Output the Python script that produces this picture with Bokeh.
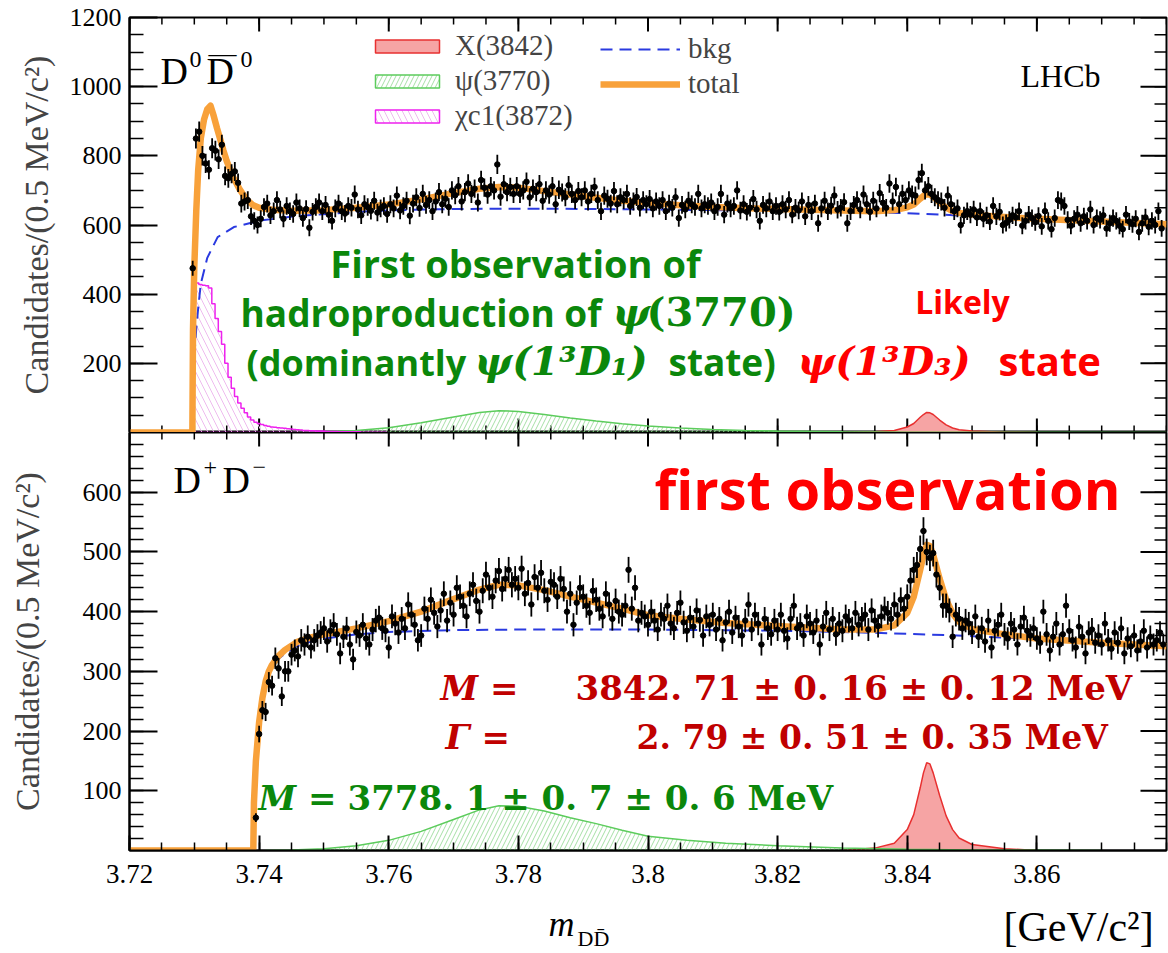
import numpy as np
from bokeh.plotting import figure
from bokeh.layouts import column
from bokeh.models import (LinearAxis, FixedTicker, Range1d, Label, Legend,
                          LegendItem, PrintfTickFormatter)
from bokeh.embed import file_html
from bokeh.resources import INLINE

# ---------------------------------------------------------------------------
# Data: candidates per 0.5 MeV bin
# ---------------------------------------------------------------------------
BIN_WIDTH = 0.0005

# D0 D0bar spectrum, first bin centre and counts (20 bins = 10 MeV per row)
dd0_first_center = 3.72975
dd0_counts = [
    475, 850, 870, 800, 778, 760, 822, 815, 790, 832, 742, 735, 748, 755, 722, 662, 668, 672, 625, 612,
    600, 618, 652, 662, 628, 640, 672, 645, 618, 655, 640, 632, 665, 648, 620, 646, 592, 638, 652, 665,
    640, 658, 630, 612, 648, 662, 640, 633, 655, 650, 688, 645, 628, 660, 652, 641, 670, 636, 648, 655,
    632, 660, 648, 685, 642, 655, 670, 627, 662, 680, 649, 690, 658, 672, 640, 668, 695, 660, 676, 652,
    700, 686, 712, 668, 695, 720, 690, 705, 665, 730, 708, 688, 712, 700, 775, 682, 718, 695, 710, 690,
    712, 690, 700, 725, 680, 705, 695, 718, 670, 700, 688, 712, 660, 702, 694, 680, 715, 690, 672, 698,
    680, 700, 668, 690, 710, 672, 640, 685, 676, 662, 698, 660, 680, 672, 690, 655, 668, 681, 650, 672,
    660, 675, 648, 668, 655, 672, 640, 662, 650, 680, 620, 658, 645, 670, 660, 652, 690, 648, 660, 655,
    665, 640, 652, 690, 630, 662, 648, 655, 700, 642, 660, 638, 650, 675, 645, 612, 658, 648, 668, 640,
    655, 638, 660, 645, 672, 630, 650, 642, 668, 625, 658, 640, 662, 605, 648, 670, 640, 656, 685, 644,
    650, 666, 605, 640, 658, 672, 645, 688, 660, 638, 670, 648, 692, 664, 650, 720, 668, 710, 660, 690,
    672, 700, 688, 685, 730, 750, 700, 712, 690, 680, 672, 668, 650, 685, 660, 640, 648, 600, 628, 640,
    630, 645, 622, 640, 618, 628, 610, 655, 625, 638, 600, 606, 615, 628, 622, 640, 598, 612, 630, 620,
    608, 626, 596, 640, 612, 588, 620, 672, 668, 655, 615, 598, 618, 630, 605, 625, 612, 645, 600, 620,
    615, 628, 590, 605, 620, 612, 598, 588, 630, 610, 602, 618, 580, 605, 622, 595, 612, 600, 640, 590,
]

# D+ D- spectrum
dpm_first_center = 3.7395
dpm_counts = [
    55, 195, 235, 232, 282, 276, 322, 305, 258, 300, 300, 328, 335, 325, 352, 345, 358, 340, 352, 360,
    365, 372, 350, 368, 378, 362, 330, 358, 372, 345, 320, 366, 360, 378, 355, 345, 370, 385, 390, 372,
    368, 340, 392, 380, 365, 388, 372, 412, 395, 378, 352, 360, 405, 388, 420, 398, 375, 402, 430, 385,
    415, 395, 440, 425, 410, 392, 430, 445, 418, 400, 435, 462, 440, 425, 452, 468, 438, 455, 470, 445,
    455, 440, 472, 430, 448, 412, 458, 440, 465, 435, 420, 450, 445, 425, 455, 438, 400, 430, 378, 415,
    440, 425, 410, 398, 435, 420, 405, 392, 430, 412, 388, 418, 400, 395, 410, 470, 405, 440, 385, 398,
    392, 378, 400, 385, 370, 395, 388, 410, 380, 372, 398, 415, 382, 368, 390, 375, 402, 386, 360, 392,
    378, 395, 370, 388, 352, 382, 400, 365, 390, 375, 360, 385, 412, 370, 395, 380, 345, 388, 372, 362,
    385, 370, 395, 368, 355, 388, 410, 372, 378, 360, 392, 380, 365, 385, 345, 375, 398, 370, 388, 362,
    380, 368, 392, 385, 372, 398, 378, 388, 395, 370, 402, 385, 376, 392, 405, 398, 388, 412, 395, 420,
    405, 425, 452, 470, 478, 505, 535, 500, 490, 498, 462, 440, 410, 410, 402, 358, 395, 388, 372, 385,
    380, 365, 392, 358, 372, 350, 385, 340, 368, 378, 395, 362, 355, 380, 370, 345, 375, 390, 368, 360,
    372, 355, 348, 400, 362, 335, 358, 380, 345, 362, 410, 368, 352, 340, 375, 358, 330, 365, 370, 348,
    360, 345, 380, 352, 338, 365, 348, 372, 330, 355, 342, 360, 335, 350, 368, 340, 358, 345, 352, 365,
    345,
]

# ---------------------------------------------------------------------------
# Fit model curves, sampled as (mass [GeV], candidates) pairs
# ---------------------------------------------------------------------------
dd0_total = [
    (3.7200, 0), (3.7297, 0), (3.7298, 300), (3.7300, 480), (3.7303, 640), (3.7306, 760),
    (3.7310, 850), (3.7315, 905), (3.7320, 935), (3.7325, 945), (3.7330, 915), (3.7335, 880),
    (3.7340, 848), (3.7345, 815), (3.7350, 785), (3.7360, 738), (3.7370, 703), (3.7380, 675),
    (3.7390, 658), (3.7400, 650), (3.7420, 644), (3.7450, 641), (3.7500, 643), (3.7550, 650),
    (3.7600, 659), (3.7650, 674), (3.7700, 692), (3.7740, 705), (3.7770, 710), (3.7800, 708),
    (3.7840, 698), (3.7880, 688), (3.7920, 679), (3.7960, 670), (3.8000, 664), (3.8050, 657),
    (3.8100, 652), (3.8200, 646), (3.8300, 642), (3.8350, 640), (3.8380, 643), (3.8400, 651),
    (3.8410, 659), (3.8420, 676), (3.8425, 684), (3.8430, 689), (3.8435, 688), (3.8440, 682),
    (3.8450, 665), (3.8460, 650), (3.8470, 640), (3.8480, 635), (3.8500, 630), (3.8550, 623),
    (3.8600, 618), (3.8700, 610), (3.8800, 602),
]
dd0_bkg = [
    (3.7297, 0), (3.7298, 120), (3.7300, 220), (3.7303, 300), (3.7306, 360), (3.7310, 430),
    (3.7320, 505), (3.7336, 565), (3.7361, 594), (3.7402, 613), (3.7464, 627), (3.7568, 640),
    (3.7650, 645), (3.7750, 647), (3.7850, 647), (3.8000, 645), (3.8100, 643), (3.8200, 642),
    (3.8300, 640), (3.8400, 634), (3.8500, 626), (3.8600, 618), (3.8700, 610), (3.8800, 602),
]
dd0_psi3770 = [
    (3.7450, 0), (3.7500, 2), (3.7550, 6), (3.7600, 14), (3.7650, 28), (3.7700, 45),
    (3.7740, 58), (3.7770, 63), (3.7800, 61), (3.7840, 52), (3.7880, 42), (3.7920, 33),
    (3.7960, 25), (3.8000, 19), (3.8050, 13), (3.8100, 9), (3.8150, 6), (3.8200, 4),
    (3.8300, 2), (3.8400, 1), (3.8800, 0),
]
dd0_x3842 = [
    (3.8300, 0), (3.8350, 2), (3.8380, 6), (3.8400, 16), (3.8410, 26), (3.8420, 44),
    (3.8425, 52), (3.8430, 58), (3.8435, 57), (3.8440, 52), (3.8450, 36), (3.8460, 22),
    (3.8470, 13), (3.8480, 8), (3.8500, 4), (3.8550, 1), (3.8600, 0),
]
# chi_c1(3872) reflection, histogram from the D0 D0bar threshold
dd0_chic1_first_edge = 3.7297
dd0_chic1_values = [
    440, 432, 428, 426, 424, 418, 372, 330, 292, 255, 200, 160, 128, 104, 85, 70, 57, 45, 36, 30,
    26, 23, 20, 18, 16, 15, 14, 13, 12, 11, 10, 9, 8, 7, 6, 6, 5, 5, 4, 4,
    4, 3, 3, 3, 3, 2, 2, 2, 2, 2, 2, 2, 1, 1, 1, 1, 1, 1, 1, 1,
]

dpm_total = [
    (3.7200, 0), (3.7391, 0), (3.7392, 80), (3.7395, 150), (3.7400, 215), (3.7405, 255),
    (3.7410, 283), (3.7415, 300), (3.7420, 311), (3.7430, 326), (3.7440, 336), (3.7460, 350),
    (3.7480, 357), (3.7500, 362), (3.7550, 372), (3.7600, 384), (3.7650, 400), (3.7700, 421),
    (3.7740, 437), (3.7770, 445), (3.7800, 444), (3.7840, 436), (3.7880, 425), (3.7920, 415),
    (3.7960, 405), (3.8000, 394), (3.8060, 387), (3.8120, 381), (3.8200, 376), (3.8300, 370),
    (3.8350, 370), (3.8380, 377), (3.8400, 398), (3.8410, 425), (3.8420, 470), (3.8425, 495),
    (3.8430, 512), (3.8435, 510), (3.8440, 495), (3.8450, 455), (3.8460, 420), (3.8470, 397),
    (3.8480, 383), (3.8500, 371), (3.8550, 362), (3.8600, 355), (3.8700, 348), (3.8800, 342),
]
dpm_bkg = [
    (3.7391, 0), (3.7392, 78), (3.7395, 148), (3.7400, 213), (3.7405, 253), (3.7410, 280),
    (3.7420, 307), (3.7430, 321), (3.7440, 330), (3.7460, 343), (3.7480, 350), (3.7500, 355),
    (3.7550, 362), (3.7600, 366), (3.7700, 369), (3.7800, 370), (3.7900, 370), (3.8000, 370),
    (3.8100, 369), (3.8200, 368), (3.8300, 366), (3.8400, 363), (3.8500, 359), (3.8600, 354),
    (3.8700, 348), (3.8800, 342),
]
dpm_psi3770 = [
    (3.7410, 0), (3.7450, 1), (3.7500, 3), (3.7550, 8), (3.7600, 17), (3.7650, 32),
    (3.7700, 52), (3.7740, 68), (3.7770, 75), (3.7800, 74), (3.7840, 66), (3.7880, 55),
    (3.7920, 45), (3.7960, 34), (3.8000, 24), (3.8060, 17), (3.8120, 12), (3.8200, 8),
    (3.8300, 4), (3.8400, 2), (3.8500, 1), (3.8700, 0),
]
dpm_x3842 = [
    (3.8300, 0), (3.8350, 4), (3.8380, 12), (3.8400, 35), (3.8410, 60), (3.8420, 105),
    (3.8425, 130), (3.8430, 147), (3.8435, 145), (3.8440, 130), (3.8450, 92), (3.8460, 58),
    (3.8470, 35), (3.8480, 21), (3.8500, 10), (3.8550, 3), (3.8600, 0),
]

# Axis ticks
x_ticks = [3.72, 3.74, 3.76, 3.78, 3.80, 3.82, 3.84, 3.86]
x_minor = [round(3.72 + 0.005 * k, 3) for k in range(33)]
dd0_y_ticks = [200, 400, 600, 800, 1000, 1200]
dd0_y_minor = list(range(50, 1200, 50))
dpm_y_ticks = [100, 200, 300, 400, 500, 600]
dpm_y_minor = list(range(20, 700, 20))

# ---------------------------------------------------------------------------
# Styling
# ---------------------------------------------------------------------------
SERIF = "Liberation Serif, Times New Roman, Tinos, DejaVu Serif, serif"
AXIS_FONT = "serif"
SANS = "Open Sans"
MATH = "DejaVu Serif"
ORANGE = "#f8a13a"
BLUE = "#2a3ae0"
GREEN_LINE = "#5ccc5c"
GREEN_HATCH = "#a6dfa6"
MAGENTA = "#ee22ee"
MAGENTA_HATCH = "#eebbee"
RED_LINE = "#e83030"
RED_FILL = "#f6a4a4"
ANN_GREEN = "#0b870b"
ANN_RED = "#ff0000"
ANN_DARKRED = "#c00000"

X_MIN, X_MAX = 3.72, 3.88
FRAME_W = 1037
LEFT_BORDER = 129
PX_PER_GEV = FRAME_W / (X_MAX - X_MIN)
# drawn text sits about this fraction of its size below the requested baseline
BASELINE_LIFT = 0.37


def unzip(pairs):
    xs = [a for a, _ in pairs]
    ys = [b for _, b in pairs]
    return xs, ys


def style_axis(ax, ticks, minor, major_len, minor_len, label_size):
    ax.ticker = FixedTicker(ticks=ticks, minor_ticks=minor)
    ax.major_tick_in = major_len
    ax.major_tick_out = 0
    ax.minor_tick_in = minor_len
    ax.minor_tick_out = 0
    ax.axis_line_width = 2
    ax.major_tick_line_width = 2
    ax.minor_tick_line_width = 1.5
    ax.major_label_text_font = AXIS_FONT
    ax.major_label_text_font_size = f"{label_size}px"
    ax.major_label_text_color = "black"


def inward_ticks(p, xs, ys, length, angle, width):
    p.ray(x=xs, y=ys, length=length, angle=angle, length_units="screen",
          line_color="black", line_width=width)


def make_panel(frame_h, y_max, y_ticks, y_minor, border_top, border_bottom,
               label_standoff, x_axis, top_ticks, bottom_ticks):
    p = figure(frame_width=FRAME_W, frame_height=frame_h,
               x_range=Range1d(X_MIN, X_MAX), y_range=Range1d(0, y_max),
               output_backend="svg", toolbar_location=None,
               x_axis_location=None, y_axis_location=None,
               min_border_left=LEFT_BORDER, min_border_right=2,
               min_border_top=border_top, min_border_bottom=border_bottom)
    p.grid.visible = False
    p.outline_line_color = "black"
    p.outline_line_width = 2
    p.background_fill_color = "white"
    p.border_fill_color = "white"

    left = LinearAxis()
    style_axis(left, y_ticks, y_minor, 28, 14, 26)
    left.major_label_standoff = 8
    left.axis_label = "Candidates/(0.5 MeV/c²)"
    left.axis_label_text_font = AXIS_FONT
    left.axis_label_text_font_style = "normal"
    left.axis_label_text_font_size = "34px"
    left.axis_label_standoff = label_standoff
    p.add_layout(left, "left")

    if x_axis:
        bottom = LinearAxis()
        style_axis(bottom, x_ticks, x_minor, 15, 8, 27)
        bottom.formatter = PrintfTickFormatter(format="%g")
        bottom.major_label_standoff = 14
        p.add_layout(bottom, "below")

    # inward tick marks on the remaining frame edges
    inward_ticks(p, [X_MAX] * len(y_ticks), y_ticks, 26, np.pi, 2)
    inward_ticks(p, [X_MAX] * len(y_minor), y_minor, 12, np.pi, 1.5)
    if top_ticks:
        inward_ticks(p, x_ticks, [y_max] * len(x_ticks), 14, -np.pi / 2, 2)
        inward_ticks(p, x_minor, [y_max] * len(x_minor), 7, -np.pi / 2, 1.5)
    if bottom_ticks:
        inward_ticks(p, x_ticks, [0] * len(x_ticks), 14, np.pi / 2, 2)
        inward_ticks(p, x_minor, [0] * len(x_minor), 7, np.pi / 2, 1.5)
    return p


def draw_points(p, first_center, counts):
    xs = first_center + BIN_WIDTH * np.arange(len(counts))
    ys = np.array(counts, dtype=float)
    err = np.sqrt(ys)
    p.segment(x0=xs, y0=ys - err, x1=xs, y1=ys + err, line_color="black", line_width=1.8)
    p.scatter(xs, ys, size=5.5, color="black")


def draw_area(p, pairs, line_color, line_width, fill_color=None, fill_alpha=0.0,
              hatch=None, hatch_color=None, hatch_scale=9):
    xs, ys = unzip(pairs)
    kw = dict(line_color=line_color, line_width=line_width,
              fill_color=fill_color, fill_alpha=fill_alpha)
    if hatch:
        kw.update(hatch_pattern=hatch, hatch_color=hatch_color,
                  hatch_scale=hatch_scale, hatch_weight=1)
    return p.patch(xs, ys, **kw)


def draw_curve(p, pairs, color, width, dash="solid"):
    xs, ys = unzip(pairs)
    return p.line(xs, ys, line_color=color, line_width=width, line_dash=dash,
                  line_join="round")


PANEL_Y = {}


def add_text(p, px_x, px_base, text, size, color="black", font=SERIF,
             style="normal", align="left"):
    """Place text by its left (or centre) pixel column and baseline pixel row;
    PANEL_Y holds each panel's conversion from pixel row to data units."""
    x = X_MIN + (px_x - LEFT_BORDER) / PX_PER_GEV
    y = PANEL_Y[id(p)](px_base - BASELINE_LIFT * size)
    p.add_layout(Label(x=x, y=y, text=text, text_font=font,
                       text_font_size=f"{size}px", text_color=color,
                       text_font_style=style, text_align=align,
                       text_baseline="alphabetic"))


# ---------------------------------------------------------------------------
# Upper panel: D0 D0bar
# ---------------------------------------------------------------------------
p1 = make_panel(415, 1200, dd0_y_ticks, dd0_y_minor, 17, 0, 12,
                x_axis=False, top_ticks=True, bottom_ticks=True)
PANEL_Y[id(p1)] = lambda py: (432 - py) * 1200 / 415

r_x1 = draw_area(p1, dd0_x3842, RED_LINE, 1.5, fill_color=RED_FILL, fill_alpha=1.0)
r_psi1 = draw_area(p1, dd0_psi3770, GREEN_LINE, 1.5, hatch="/", hatch_color=GREEN_HATCH)

edges = dd0_chic1_first_edge + BIN_WIDTH * np.arange(len(dd0_chic1_values) + 1)
step_x = np.concatenate([[edges[0]], np.repeat(edges, 2)[1:-1], [edges[-1]]])
step_y = np.concatenate([[0], np.repeat(dd0_chic1_values, 2), [0]])
r_chi = p1.patch(step_x, step_y, line_color=MAGENTA, line_width=1.5, fill_color=None,
                 fill_alpha=0.0, hatch_pattern="\\", hatch_color=MAGENTA_HATCH,
                 hatch_scale=12, hatch_weight=1)

r_bkg1 = draw_curve(p1, dd0_bkg, BLUE, 2, "12 7")
r_tot1 = draw_curve(p1, dd0_total, ORANGE, 6.5)
draw_points(p1, dd0_first_center, dd0_counts)

# channel label D0 D0bar, built from pieces so the superscripts keep their size
add_text(p1, 160, 85, "D", 38)
add_text(p1, 189, 68, "0", 24)
add_text(p1, 206, 85, "D", 38)
add_text(p1, 208, 62, "—", 28)
add_text(p1, 240, 68, "0", 24)
add_text(p1, 1020, 87, "LHCb", 32)

legend_style = dict(background_fill_alpha=0, border_line_alpha=0, padding=0, margin=0,
                    spacing=2, glyph_width=80, glyph_height=16, label_height=30,
                    label_standoff=8, label_text_font=SERIF,
                    label_text_font_size="29px")
leg_a = Legend(items=[LegendItem(label="X(3842)", renderers=[r_x1]),
                      LegendItem(label="ψ(3770)", renderers=[r_psi1]),
                      LegendItem(label="χc1(3872)", renderers=[r_chi])],
               location=(238, 300), **legend_style)
leg_b = Legend(items=[LegendItem(label="bkg", renderers=[r_bkg1]),
                      LegendItem(label="total", renderers=[r_tot1])],
               location=(471, 332), **legend_style)
p1.add_layout(leg_a)
p1.add_layout(leg_b)

# annotations on the upper panel
add_text(p1, 515, 277, "First observation of", 38, ANN_GREEN, SANS, "bold", "center")
add_text(p1, 240, 326, "hadroproduction of", 37, ANN_GREEN, SANS, "bold")
add_text(p1, 612, 326, "ψ", 40, ANN_GREEN, MATH, "bold italic")
add_text(p1, 646, 326, "(3770)", 40, ANN_GREEN, MATH, "bold")
add_text(p1, 246, 375, "(dominantly", 36, ANN_GREEN, SANS, "bold")
add_text(p1, 474, 375, "ψ(1³D₁)", 40, ANN_GREEN, MATH, "bold italic")
add_text(p1, 668, 375, "state)", 37, ANN_GREEN, SANS, "bold")
add_text(p1, 962, 313, "Likely", 32, ANN_RED, SANS, "bold", "center")
add_text(p1, 797, 375, "ψ(1³D₃)", 40, ANN_RED, MATH, "bold italic")
add_text(p1, 998, 375, "state", 40, ANN_RED, SANS, "bold")

# ---------------------------------------------------------------------------
# Lower panel: D+ D-
# ---------------------------------------------------------------------------
p2 = make_panel(418, 700, dpm_y_ticks, dpm_y_minor, 0, 50, 34,
                x_axis=True, top_ticks=True, bottom_ticks=False)
PANEL_Y[id(p2)] = lambda py: (850 - py) * 700 / 418

draw_area(p2, dpm_x3842, RED_LINE, 1.5, fill_color=RED_FILL, fill_alpha=1.0)
draw_area(p2, dpm_psi3770, GREEN_LINE, 1.5, hatch="/", hatch_color=GREEN_HATCH)
draw_curve(p2, dpm_bkg, BLUE, 2, "12 7")
draw_curve(p2, dpm_total, ORANGE, 6.5)
draw_points(p2, dpm_first_center, dpm_counts)

add_text(p2, 173, 494, "D", 38)
add_text(p2, 203, 476, "+", 24)
add_text(p2, 222, 494, "D", 38)
add_text(p2, 252, 476, "−", 24)
add_text(p2, 887, 508, "first observation", 56, ANN_RED, SANS, "bold", "center")
add_text(p2, 440, 700, "M =", 34, ANN_DARKRED, MATH, "bold italic")
add_text(p2, 575, 700, "3842. 71 ± 0. 16 ± 0. 12 MeV", 34, ANN_DARKRED, MATH, "bold")
add_text(p2, 445, 749, "Γ =", 34, ANN_DARKRED, MATH, "bold italic")
add_text(p2, 636, 749, "2. 79 ± 0. 51 ± 0. 35 MeV", 33, ANN_DARKRED, MATH, "bold")
add_text(p2, 258, 810, "M =", 34, ANN_GREEN, MATH, "bold italic")
add_text(p2, 347, 810, "3778. 1 ± 0. 7 ± 0. 6 MeV", 34, ANN_GREEN, MATH, "bold")

# ---------------------------------------------------------------------------
# Strip under the lower panel holding the mass-axis title
# ---------------------------------------------------------------------------
p3 = figure(frame_width=FRAME_W, frame_height=53,
            x_range=Range1d(X_MIN, X_MAX), y_range=Range1d(0, 53),
            output_backend="svg", toolbar_location=None,
            x_axis_location=None, y_axis_location=None,
            min_border_left=LEFT_BORDER, min_border_right=2,
            min_border_top=0, min_border_bottom=0)
p3.grid.visible = False
p3.outline_line_color = None
PANEL_Y[id(p3)] = lambda py: 953 - py

add_text(p3, 548, 937, "m", 36, "black", SERIF, "italic")
add_text(p3, 577, 946, "DD̄", 22, "black", SERIF)
add_text(p3, 1003, 942, "[GeV/c²]", 42, "black", SERIF)

layout = column(p1, p2, p3, spacing=0)
open("out.html", "w").write(file_html(layout, INLINE))
